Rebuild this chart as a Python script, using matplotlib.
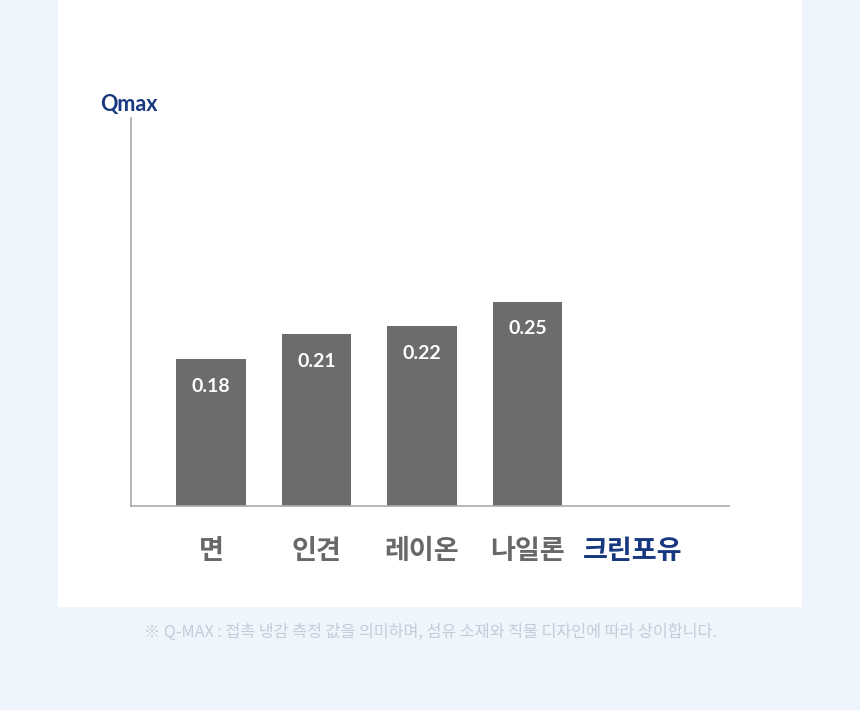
import numpy as np
import matplotlib
matplotlib.use("Agg")
import matplotlib.pyplot as plt
from matplotlib.patches import Rectangle

plt.rcParams['font.family'] = ['Noto Sans CJK KR', 'DejaVu Sans']

categories = ['면', '인견', '레이온', '나일론', '크린포유']
values = [0.18, 0.21, 0.22, 0.25, np.nan]
value_labels = ['0.18', '0.21', '0.22', '0.25', '']
y_label = 'Qmax'
footnote = '※ Q-MAX : 접촉 냉감 측정 값을 의미하며, 섬유 소재와 직물 디자인에 따라 상이합니다.'

BG = '#eef5fd'
BAR = '#6c6c6c'
GRAY_TXT = '#686868'
BLUE = '#17387f'
NUMFONT = ['Lato', 'DejaVu Sans']

fig = plt.figure(figsize=(8.6, 7.1), dpi=100, facecolor=BG)
fig.patches.append(Rectangle((58/860, 1-607/710), 744/860, 607/710,
                             transform=fig.transFigure, facecolor='white',
                             edgecolor='none', zorder=-5))

ax = fig.add_axes([131/860, 1-506/710, 598/860, 388/710])
ax.set_zorder(2)
ax.set_facecolor('none')
x = np.arange(len(categories))
bars = ax.bar(x, values, width=0.663, color=BAR, zorder=2)
ax.set_xlim(-0.758, 4.91)
ax.set_ylim(0, 0.475)

for xi, v, lab in zip(x, values, value_labels):
    if not np.isnan(v):
        ax.annotate(lab, (xi, v), xytext=(0, -19.5), textcoords='offset points',
                    ha='center', va='center', color='white', fontsize=14,
                    fontweight='bold', family=NUMFONT)

for s in ['top', 'right']:
    ax.spines[s].set_visible(False)
for s in ['left', 'bottom']:
    ax.spines[s].set_color('#aaaaaa')
    ax.spines[s].set_linewidth(1.2)
ax.set_yticks([])
ax.set_xticks(x)
ax.set_xticklabels(categories, fontsize=19.5, fontweight='bold')
ax.tick_params(axis='x', length=0, pad=22)
for i, t in enumerate(ax.get_xticklabels()):
    t.set_color(BLUE if i == len(categories) - 1 else GRAY_TXT)

fig.text(100/860, 1-104/710, y_label, ha='left', va='center', color=BLUE,
         fontsize=15.5, fontweight='bold', family=NUMFONT)
fig.text(430/860, 1-632/710, footnote, ha='center', va='center',
         color='#c6ccd6', fontsize=11.7)

fig.savefig('out.png', dpi=100, facecolor=BG)
